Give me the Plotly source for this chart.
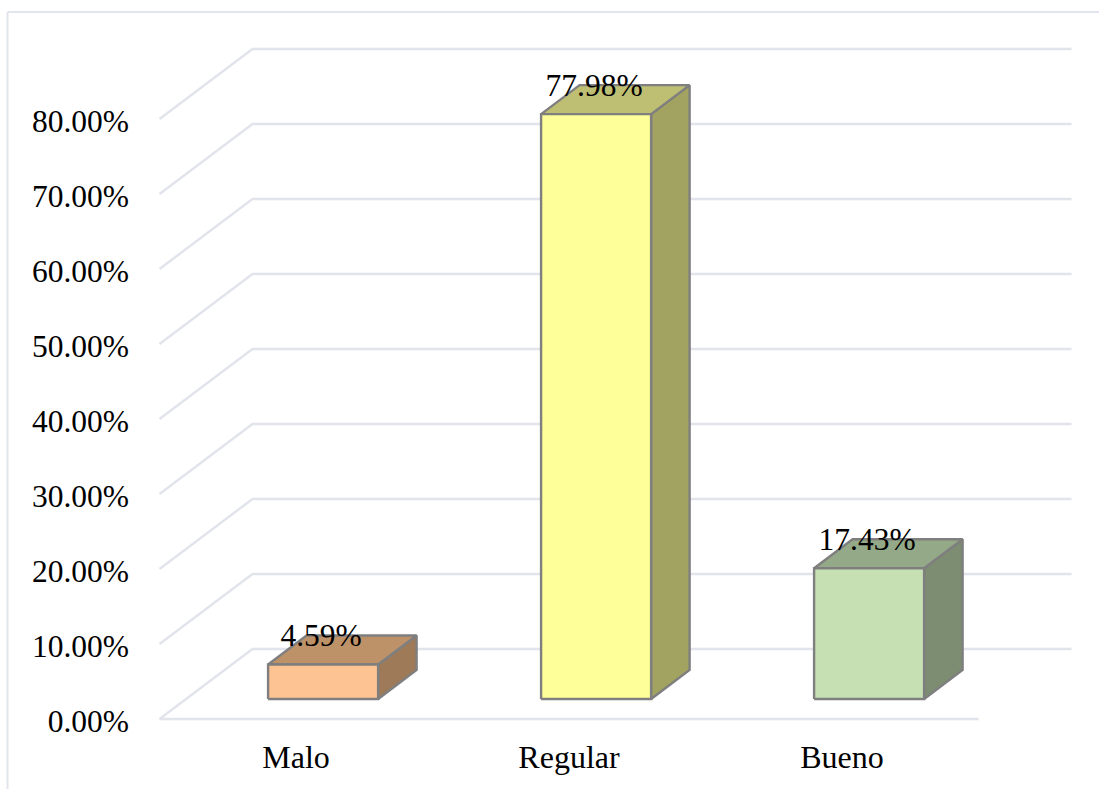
import plotly.graph_objects as go

# ---- data ----
categories = ["Malo", "Regular", "Bueno"]
values = [4.59, 77.98, 17.43]
value_labels = ["4.59%", "77.98%", "17.43%"]
y_ticks = [0, 10, 20, 30, 40, 50, 60, 70, 80]
y_tick_labels = ["0.00%", "10.00%", "20.00%", "30.00%", "40.00%", "50.00%", "60.00%", "70.00%", "80.00%"]
front_colors = ["#FDC392", "#FFFF99", "#C6E0B4"]
top_colors = ["#BE9269", "#BFBF73", "#94A987"]
side_colors = ["#9E7A58", "#A2A360", "#7D8D71"]

# ---- canvas geometry ----
W, H = 1099, 789
PX_PER_CAT = 273.0
PX_PER_PCT = 7.5
CAT0_PX, ZERO_PX = 296.0, 719.0
DEPTH_DX, DEPTH_DY = 93.0, 70.0        # oblique projection of the chart depth
PLOT_L, PLOT_R, PLOT_T, PLOT_B = 131, 1090, 20, 735
BAR_HALF = 0.2015
BAR_SHIFT = 0.5 / PX_PER_CAT
D_FRONT, D_BACK = 0.286, 0.70
GRID = "#E2E4EC"
EDGE = "#7F7F7F"
FONT = "Liberation Serif"


def proj(cat, val, depth=0.0):
    """Oblique projection: category/value/depth to axis coordinates."""
    return cat + depth * DEPTH_DX / PX_PER_CAT, val + depth * DEPTH_DY / PX_PER_PCT


def poly(points, fill, line_color=EDGE, line_width=2.4):
    xs, ys = zip(*[proj(*p) for p in points])
    return go.Scatter(x=list(xs), y=list(ys), mode="lines", fill="toself", fillcolor=fill,
                      line=dict(color=line_color, width=line_width), hoverinfo="skip",
                      showlegend=False)


fig = go.Figure()
x_lo, x_hi = -0.5, 2.5

# walls: diagonals on the left wall and lines on the back wall
for t in y_ticks:
    pts = [proj(x_lo, t, 0), proj(x_lo, t, 1), proj(x_hi, t, 1)]
    fig.add_trace(go.Scatter(x=[p[0] for p in pts], y=[p[1] for p in pts], mode="lines",
                             line=dict(color=GRID, width=2.4), hoverinfo="skip", showlegend=False))
# front floor edge
fig.add_trace(go.Scatter(x=[x_lo, x_hi], y=[0, 0], mode="lines",
                         line=dict(color=GRID, width=2.4), hoverinfo="skip", showlegend=False))

# bars
for i, v in enumerate(values):
    l, r = i - BAR_HALF + BAR_SHIFT, i + BAR_HALF + BAR_SHIFT
    fig.add_trace(poly([(r, 0, D_FRONT), (r, 0, D_BACK), (r, v, D_BACK), (r, v, D_FRONT), (r, 0, D_FRONT)],
                       side_colors[i]))
    fig.add_trace(poly([(l, v, D_FRONT), (l, v, D_BACK), (r, v, D_BACK), (r, v, D_FRONT), (l, v, D_FRONT)],
                       top_colors[i]))
    fig.add_trace(poly([(l, 0, D_FRONT), (r, 0, D_FRONT), (r, v, D_FRONT), (l, v, D_FRONT), (l, 0, D_FRONT)],
                       front_colors[i]))

# data labels
lx, ly = [], []
for i, v in enumerate(values):
    lx.append(proj(i, v, D_FRONT)[0] - 1.5 / PX_PER_CAT)
    ly.append(proj(i, v, D_BACK)[1] - 3 / PX_PER_PCT)
fig.add_trace(go.Scatter(x=lx, y=ly, mode="text", text=value_labels, textposition="middle center",
                         textfont=dict(family=FONT, size=31.5, color="#000000"),
                         hoverinfo="skip", showlegend=False, cliponaxis=False))

fig.update_layout(
    width=W, height=H, autosize=False,
    margin=dict(l=PLOT_L, r=W - PLOT_R, t=PLOT_T, b=H - PLOT_B, pad=0),
    paper_bgcolor="#FFFFFF", plot_bgcolor="#FFFFFF",
    font=dict(family=FONT, size=32, color="#000000"),
    showlegend=False,
    xaxis=dict(range=[(PLOT_L - CAT0_PX) / PX_PER_CAT, (PLOT_R - CAT0_PX) / PX_PER_CAT],
               tickmode="array", tickvals=list(range(len(categories))), ticktext=categories,
               showgrid=False, zeroline=False, showline=False, ticks="", fixedrange=True),
    yaxis=dict(range=[(ZERO_PX - PLOT_B) / PX_PER_PCT, (ZERO_PX - PLOT_T) / PX_PER_PCT],
               tickmode="array", tickvals=y_ticks, ticktext=y_tick_labels,
               tickfont=dict(family=FONT, size=31.5, color="#000000"),
               ticklabelshift=2, ticklabelstandoff=1,
               showgrid=False, zeroline=False, showline=False, ticks="", fixedrange=True),
    shapes=[
        dict(type="line", xref="paper", yref="paper",
             x0=(7.5 - PLOT_L) / (PLOT_R - PLOT_L), x1=(W - PLOT_L) / (PLOT_R - PLOT_L),
             y0=(PLOT_B - 12) / (PLOT_B - PLOT_T), y1=(PLOT_B - 12) / (PLOT_B - PLOT_T),
             line=dict(color="#E1E6EE", width=2)),
        dict(type="line", xref="paper", yref="paper",
             x0=(7.5 - PLOT_L) / (PLOT_R - PLOT_L), x1=(7.5 - PLOT_L) / (PLOT_R - PLOT_L),
             y0=(PLOT_B - 12) / (PLOT_B - PLOT_T), y1=(PLOT_B - H) / (PLOT_B - PLOT_T),
             line=dict(color="#E1E6EE", width=2)),
    ],
)

fig.write_html("out.html", config={"displayModeBar": False},
               post_script="document.body.style.margin='0';document.body.style.overflow='hidden';")
